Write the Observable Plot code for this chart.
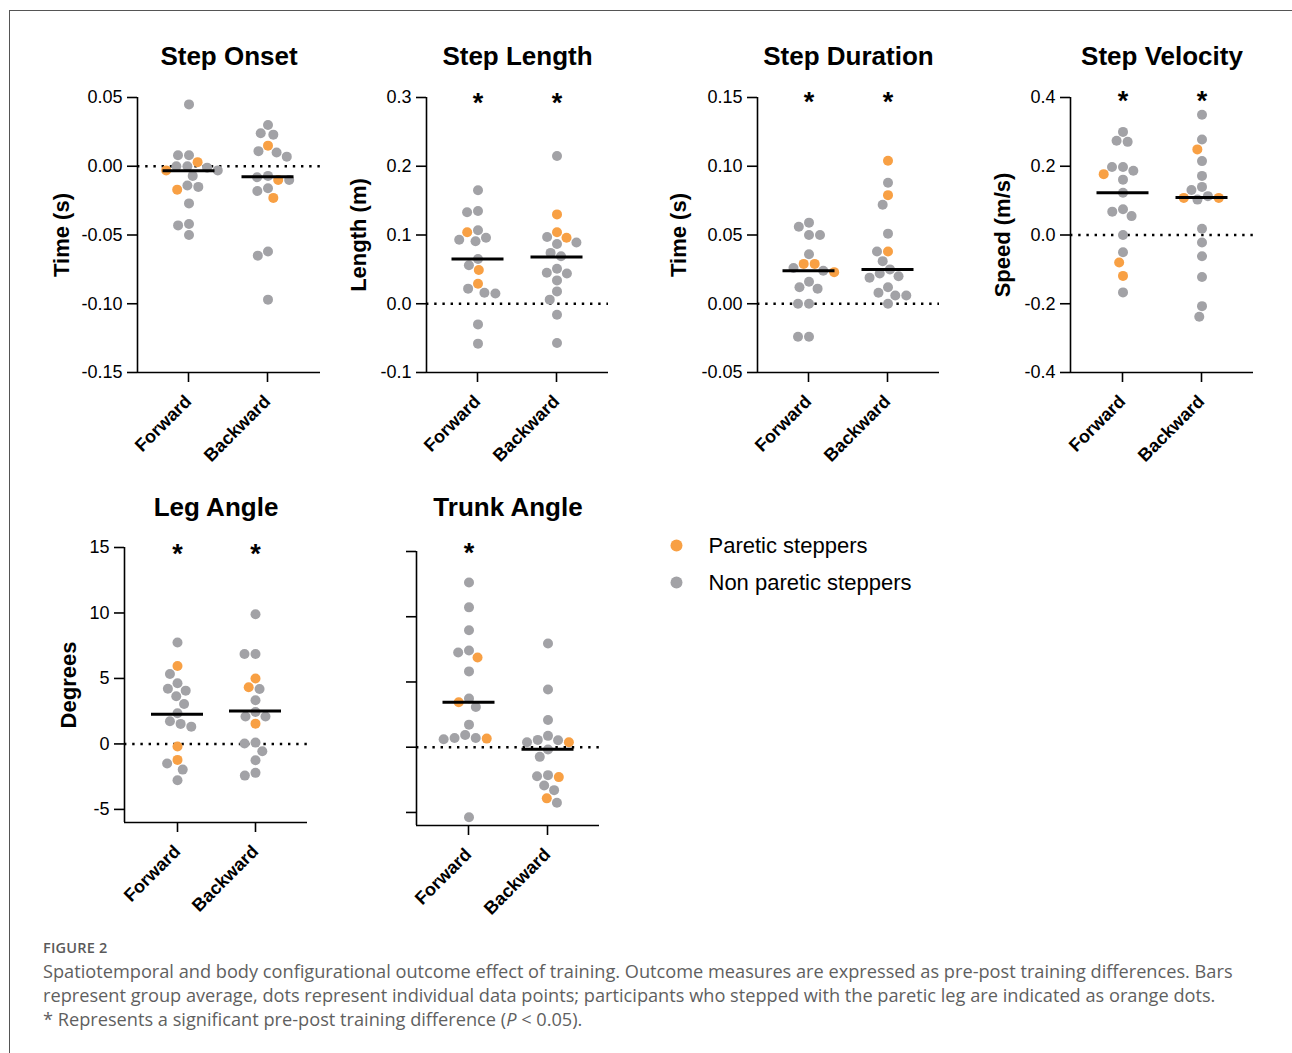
<!DOCTYPE html>
<html>
<head>
<meta charset="utf-8">
<script src="https://cdn.jsdelivr.net/npm/d3@7"></script>
<script src="https://cdn.jsdelivr.net/npm/@observablehq/plot@0.6"></script>
<style>
  body { margin: 0; background: #fff; }
  #root { position: relative; width: 1292px; height: 1053px; overflow: hidden; background: #fff;
          font-family: "Liberation Sans", Arial, sans-serif; }
  #border { position: absolute; left: 9px; top: 10px; width: 1300px; height: 1060px;
            border-top: 1px solid #555; border-left: 1px solid #555; }
  .layer { position: absolute; }
  .layer svg { display: block; overflow: visible; max-width: none; }
  #figlabel { position: absolute; left: 43px; top: 939px; font-family: "Open Sans", sans-serif;
              font-size: 14.5px; line-height: 18px; font-weight: 600; color: #5a5a5a; letter-spacing: 0.2px; }
  #caption { position: absolute; left: 43px; top: 959px; font-family: "Open Sans", sans-serif;
             font-size: 18.2px; line-height: 24px; color: #5f5f5f; white-space: nowrap; }
</style>
</head>
<body>
<div id="root">
  <div id="border"></div>
  <div id="figlabel">FIGURE 2</div>
  <div id="caption">Spatiotemporal and body configurational outcome effect of training. Outcome measures are expressed as pre-post training differences. Bars<br>represent group average, dots represent individual data points; participants who stepped with the paretic leg are indicated as orange dots.<br>* Represents a significant pre-post training difference (<i>P</i> &lt; 0.05).</div>
</div>
<script>
// ---------- data ----------
const groups = ["Forward", "Backward"];
const types = ["Paretic steppers", "Non paretic steppers"];

// Step Onset (s)
const onsetFwdPar = [0.003, -0.003, -0.017];
const onsetFwdNon = [0.045, 0.000, 0.000, 0.008, 0.008, -0.003, -0.001, -0.007, -0.014, -0.015, -0.027, -0.042, -0.043, -0.050];
const onsetBwdPar = [0.015, -0.010, -0.023];
const onsetBwdNon = [0.030, 0.023, 0.024, 0.011, 0.010, 0.007, -0.010, -0.008, -0.007, -0.018, -0.016, -0.062, -0.065, -0.097];
const onsetBars = [-0.0033, -0.0077];
const onsetStars = [];
const onsetTicks = [0.05, 0.00, -0.05, -0.10, -0.15];

// Step Length (m)
const lengthFwdPar = [0.104, 0.049, 0.029];
const lengthFwdNon = [0.165, 0.133, 0.135, 0.107, 0.096, 0.091, 0.093, 0.065, 0.056, 0.016, 0.022, 0.015, -0.030, -0.058];
const lengthBwdPar = [0.130, 0.096, 0.104];
const lengthBwdNon = [0.215, 0.097, 0.087, 0.089, 0.069, 0.074, 0.045, 0.051, 0.044, 0.034, 0.018, 0.006, -0.016, -0.057];
const lengthBars = [0.065, 0.068];
const lengthStars = ["Forward", "Backward"];
const lengthTicks = [0.3, 0.2, 0.1, 0.0, -0.1];

// Step Duration (s)
const durationFwdPar = [0.029, 0.029, 0.023];
const durationFwdNon = [0.059, 0.056, 0.050, 0.050, 0.036, 0.024, 0.026, 0.016, 0.011, 0.012, 0.000, 0.000, -0.024, -0.024];
const durationBwdPar = [0.104, 0.079, 0.038];
const durationBwdNon = [0.088, 0.072, 0.051, 0.038, 0.031, 0.022, 0.025, 0.019, 0.020, 0.012, 0.006, 0.008, 0.006, 0.000];
const durationBars = [0.024, 0.025];
const durationStars = ["Forward", "Backward"];
const durationTicks = [0.15, 0.10, 0.05, 0.00, -0.05];

// Step Velocity (m/s)
const velocityFwdPar = [0.177, -0.080, -0.119];
const velocityFwdNon = [0.300, 0.274, 0.271, 0.198, 0.198, 0.187, 0.161, 0.123, 0.075, 0.068, 0.055, 0.000, -0.050, -0.167];
const velocityBwdPar = [0.249, 0.108, 0.108];
const velocityBwdNon = [0.350, 0.278, 0.215, 0.172, 0.140, 0.131, 0.103, 0.113, 0.018, -0.022, -0.062, -0.122, -0.207, -0.238];
const velocityBars = [0.123, 0.109];
const velocityStars = ["Forward", "Backward"];
const velocityTicks = [0.4, 0.2, 0.0, -0.2, -0.4];

// Leg Angle (degrees)
const legFwdPar = [5.95, -0.20, -1.22];
const legFwdNon = [7.74, 5.34, 4.63, 4.07, 4.22, 3.64, 3.05, 2.34, 1.53, 1.73, 1.32, -1.50, -1.96, -2.77];
const legBwdPar = [4.99, 4.33, 1.55];
const legBwdNon = [9.90, 6.87, 6.87, 4.20, 3.33, 2.44, 2.09, 2.09, 0.03, 0.10, -0.56, -1.25, -2.42, -2.21];
const legBars = [2.27, 2.52];
const legStars = ["Forward", "Backward"];
const legTicks = [15, 10, 5, 0, -5];

// Trunk Angle (degrees)
const trunkFwdPar = [6.88, 3.44, 0.66];
const trunkFwdNon = [12.63, 10.72, 8.96, 7.41, 7.26, 5.81, 3.74, 3.08, 1.73, 0.94, 0.71, 0.61, 0.71, -5.37];
const trunkBwdPar = [0.38, -2.29, -3.92];
const trunkBwdNon = [7.95, 4.43, 2.09, 0.38, 0.56, 0.87, 0.53, -0.18, -0.74, -2.22, -2.14, -2.93, -3.29, -4.25];
const trunkBars = [3.44, -0.15];
const trunkStars = ["Forward"];
const trunkTicks = [15, 10, 5, 0, -5];

// ---------- style / layout ----------
const ORANGE = "#F8A044";
const GRAY = "#A2A2A6";
const FONT = "'Liberation Sans', Arial, sans-serif";

function table(fwdPar, fwdNon, bwdPar, bwdNon) {
  const rows = [];
  const add = (vals, group, type) => vals.forEach(v => rows.push({group, type, value: v}));
  add(fwdPar, "Forward", types[0]); add(fwdNon, "Forward", types[1]);
  add(bwdPar, "Backward", types[0]); add(bwdNon, "Backward", types[1]);
  return rows.sort((a, b) => b.value - a.value);
}

const panels = [
  {title: "Step Onset", label: "Time (s)", domain: [-0.15, 0.05], ticks: onsetTicks, dec: 2,
   rows: table(onsetFwdPar, onsetFwdNon, onsetBwdPar, onsetBwdNon), bars: onsetBars, stars: onsetStars,
   box: {axisX: 137, fwdX: 188, bwdX: 267, endX: 320, topY: 97, bottomY: 372, labelX: 61, titleY: 56, starY: 99}},
  {title: "Step Length", label: "Length (m)", domain: [-0.1, 0.3], ticks: lengthTicks, dec: 1,
   rows: table(lengthFwdPar, lengthFwdNon, lengthBwdPar, lengthBwdNon), bars: lengthBars, stars: lengthStars,
   box: {axisX: 426, fwdX: 477, bwdX: 556, endX: 608, topY: 97, bottomY: 372, labelX: 358, titleY: 56, starY: 99}},
  {title: "Step Duration", label: "Time (s)", domain: [-0.05, 0.15], ticks: durationTicks, dec: 2,
   rows: table(durationFwdPar, durationFwdNon, durationBwdPar, durationBwdNon), bars: durationBars, stars: durationStars,
   box: {axisX: 757, fwdX: 808, bwdX: 887, endX: 939, topY: 97, bottomY: 372, labelX: 678, titleY: 56, starY: 98}},
  {title: "Step Velocity", label: "Speed (m/s)", domain: [-0.4, 0.4], ticks: velocityTicks, dec: 1,
   rows: table(velocityFwdPar, velocityFwdNon, velocityBwdPar, velocityBwdNon), bars: velocityBars, stars: velocityStars,
   box: {axisX: 1070, fwdX: 1122, bwdX: 1201, endX: 1253, topY: 97, bottomY: 372, labelX: 1002, titleY: 56, starY: 97}},
  {title: "Leg Angle", label: "Degrees", domain: [-6, 15], ticks: legTicks, dec: 0,
   rows: table(legFwdPar, legFwdNon, legBwdPar, legBwdNon), bars: legBars, stars: legStars,
   box: {axisX: 124, fwdX: 177, bwdX: 255, endX: 307, topY: 547, bottomY: 822, labelX: 68, titleY: 507, starY: 550}},
  {title: "Trunk Angle", label: null, domain: [-6, 15], ticks: trunkTicks, dec: null,
   rows: table(trunkFwdPar, trunkFwdNon, trunkBwdPar, trunkBwdNon), bars: trunkBars, stars: trunkStars,
   box: {axisX: 416, fwdX: 468, bwdX: 547, endX: 599, topY: 551, bottomY: 825, labelX: null, titleY: 507, starY: 549}}
];

const root = document.getElementById("root");
function place(el, left, top, width, height) {
  const d = document.createElement("div");
  d.className = "layer";
  d.style.left = left + "px"; d.style.top = top + "px";
  d.style.width = width + "px"; d.style.height = height + "px";
  d.appendChild(el);
  root.appendChild(d);
}

const ML = 100, MT = 80, MR = 30, MB = 110;

for (const p of panels) {
  const b = p.box;
  const left = b.axisX - ML, top = b.topY - MT;
  const width = ML + (b.endX - b.axisX) + MR;
  const height = MT + (b.bottomY - b.topY) + MB;
  const step = b.bwdX - b.fwdX;
  const xDomain = [(b.axisX - b.fwdX) / step, 1 + (b.endX - b.bwdX) / step];
  const [ymin, ymax] = p.domain;

  // Layer A: axes, reference line, labels
  const marksA = [
    Plot.ruleY([0], {stroke: "#000", strokeWidth: 2.4, strokeDasharray: "2.4 5.8"}),
    Plot.axisY({ticks: p.ticks, tickSize: 10, tickPadding: 5, strokeWidth: 1.6, fontSize: 18,
                tickFormat: p.dec == null ? () => "" : d => d.toFixed(p.dec), label: null}),
    Plot.ruleX([xDomain[0]], {y1: ymin, y2: ymax, stroke: "#000", strokeWidth: 1.6}),
    Plot.ruleY([ymin], {stroke: "#000", strokeWidth: 1.6}),
    Plot.ruleX(groups, {x: (d, i) => i, y1: ymin, y2: ymin, insetBottom: -10, stroke: "#000", strokeWidth: 1.6}),
    Plot.text(groups, {x: (d, i) => i, frameAnchor: "bottom", text: d => d, rotate: -45, textAnchor: "end",
                       lineAnchor: "bottom", dx: 4, dy: 30, fontSize: 18, fontWeight: "bold", fill: "#000"}),
    Plot.text([p.title], {frameAnchor: "top", lineAnchor: "middle", textAnchor: "middle", dy: b.titleY - b.topY,
                          fontSize: 26, fontWeight: "bold", fill: "#000"})
  ];
  if (p.label) {
    marksA.push(Plot.text([p.label], {frameAnchor: "left", dx: b.labelX - b.axisX, rotate: -90,
                                     textAnchor: "middle", lineAnchor: "middle",
                                     fontSize: 22, fontWeight: "bold", fill: "#000"}));
  }
  const A = Plot.plot({
    width, height, marginLeft: ML, marginTop: MT, marginRight: MR, marginBottom: MB,
    x: {domain: xDomain, axis: null},
    y: {domain: p.domain, axis: null},
    style: {fontFamily: FONT, color: "#000", background: "transparent", overflow: "visible"},
    marks: marksA
  });
  place(A, left, top, width, height);

  // Layer B: dots (beeswarm), group bars, significance stars
  const bandL = b.fwdX - step / 2, bandR = b.bwdX + step / 2;
  const barRows = groups.map((g, i) => ({group: g, value: p.bars[i]}));
  const inset = (step - 52) / 2;
  const B = Plot.plot({
    width, height, marginTop: MT, marginBottom: MB,
    marginLeft: bandL - left, marginRight: left + width - bandR,
    fx: {domain: groups, padding: 0, axis: null, label: null},
    y: {domain: p.domain, axis: null},
    color: {domain: types, range: [ORANGE, GRAY]},
    style: {fontFamily: FONT, color: "#000", background: "transparent", overflow: "visible"},
    marks: [
      Plot.dot(p.rows, Plot.dodgeX({anchor: "middle", padding: 1},
               {fx: "group", y: "value", r: 5, fill: "type", stroke: null})),
      Plot.ruleY(barRows, {fx: "group", y: "value", stroke: "#000", strokeWidth: 3,
                           insetLeft: inset, insetRight: inset}),
      Plot.text(p.stars, {fx: d => d, frameAnchor: "top", lineAnchor: "middle", textAnchor: "middle",
                          text: () => "*", dy: b.starY - b.topY + 4,
                          fontSize: 27, fontWeight: "bold", fill: "#000"})
    ]
  });
  place(B, left, top, width, height);
}

// Legend
const L = Plot.plot({
  width: 320, height: 90, margin: 0,
  x: {domain: [0, 1], range: [26, 300], axis: null},
  y: {type: "point", domain: types, range: [25, 62], padding: 0, axis: null},
  color: {domain: types, range: [ORANGE, GRAY]},
  style: {fontFamily: FONT, color: "#000", background: "transparent", overflow: "visible"},
  marks: [
    Plot.dot(types, {x: () => 0, y: d => d, r: 6, fill: d => d}),
    Plot.text(types, {x: () => 0, y: d => d, text: d => d, dx: 32, textAnchor: "start", lineAnchor: "middle",
                      fontSize: 22, fill: "#000"})
  ]
});
place(L, 650, 520, 320, 90);
</script>
</body>
</html>
